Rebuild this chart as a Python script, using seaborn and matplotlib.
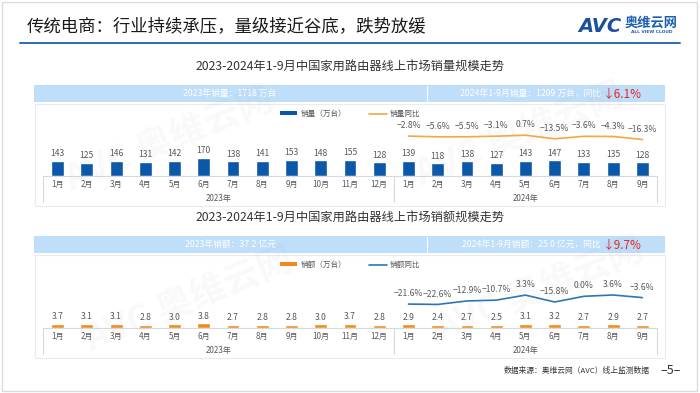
import numpy as np
import pandas as pd
import matplotlib
matplotlib.use('Agg')
import matplotlib.pyplot as plt
from matplotlib.patches import Rectangle, Patch
from matplotlib.lines import Line2D
import seaborn as sns

sns.set_style('white')
plt.rcParams['font.family'] = ['Noto Sans CJK SC', 'DejaVu Sans']
plt.rcParams['axes.unicode_minus'] = True

# ---- data ----
months_2023 = ['1月', '2月', '3月', '4月', '5月', '6月', '7月', '8月', '9月', '10月', '11月', '12月']
months_2024 = ['1月', '2月', '3月', '4月', '5月', '6月', '7月', '8月', '9月']
years = ['2023年', '2024年']

volume_2023 = [143, 125, 146, 131, 142, 170, 138, 141, 153, 148, 155, 128]
volume_2024 = [139, 118, 138, 127, 143, 147, 133, 135, 128]
volume_yoy = [-2.8, -5.6, -5.5, -3.1, 0.7, -13.5, -3.6, -4.3, -16.3]

sales_2023 = [3.7, 3.1, 3.1, 2.8, 3.0, 3.8, 2.7, 2.8, 2.8, 3.0, 3.7, 2.8]
sales_2024 = [2.9, 2.4, 2.7, 2.5, 3.1, 3.2, 2.7, 2.9, 2.7]
sales_yoy = [-21.6, -22.6, -12.9, -10.7, 3.3, -15.8, 0.0, 3.6, -3.6]

W, H = 700, 393
GREY_TXT = '#595959'
AXIS_GREY = '#d9d9d9'
BANNER = '#bedefa'


def fx(px):
    return px / W


def fy(py):
    return 1 - py / H


def draw_panel(fig, title, title_y, banner_left, banner_right, banner_pct, banner_y,
               vals_2023, vals_2024, yoy, bar_color, line_color, bar_label, line_label,
               legend_y, base_y, ax_h, bar_ylim, line_ylim, bar_fmt):
    # chart title
    fig.text(fx(350), fy(title_y), title, ha='center', va='center', fontsize=8.8, color='#333333')

    # banner
    fig.patches.append(Rectangle((fx(34), fy(banner_y + 17)), fx(631), 17 / H,
                                 transform=fig.transFigure, facecolor=BANNER, edgecolor='none', zorder=-2))
    fig.add_artist(Line2D([fx(427), fx(427)], [fy(banner_y + 1), fy(banner_y + 16)],
                          transform=fig.transFigure, color='white', lw=0.8, zorder=-1))
    fig.text(fx(230), fy(banner_y + 8.5), banner_left, ha='center', va='center', fontsize=6.3, color='white')
    fig.text(fx(601), fy(banner_y + 8.5), banner_right, ha='right', va='center', fontsize=6.3, color='white')
    fig.text(fx(603), fy(banner_y + 8.5), banner_pct, ha='left', va='center', fontsize=8.5, color='#e8231f')

    # white panel
    fig.patches.append(Rectangle((fx(35), fy(base_y + 30)), fx(630), (base_y + 30 - banner_y - 19) / H,
                                 transform=fig.transFigure, facecolor='white', edgecolor='#ebebeb',
                                 lw=0.8, zorder=-2))

    n23 = len(vals_2023)
    df = pd.DataFrame({
        'idx': np.arange(n23 + len(vals_2024)),
        'value': vals_2023 + vals_2024,
    })
    df_yoy = pd.DataFrame({'idx': np.arange(n23, n23 + len(yoy)), 'yoy': yoy})

    ax = fig.add_axes([fx(43), fy(base_y), fx(614), ax_h / H])
    ax.patch.set_alpha(0)
    sns.barplot(data=df, x='idx', y='value', color=bar_color, width=0.44, saturation=1, ax=ax)
    ax.bar_label(ax.containers[0], fmt=bar_fmt, padding=2, fontsize=6.2, color=GREY_TXT)
    ax.set_ylim(*bar_ylim)
    ax.set_xlim(-0.5, len(df) - 0.5)
    ax.set_xticks(df['idx'], labels=months_2023 + months_2024)
    ax.tick_params(axis='x', length=0, pad=3, labelsize=5.8, labelcolor=GREY_TXT)
    ax.set_yticks([])
    ax.set_xlabel('')
    ax.set_ylabel('')
    for s in ['top', 'left', 'right']:
        ax.spines[s].set_visible(False)
    ax.spines['bottom'].set_color(AXIS_GREY)
    ax.spines['bottom'].set_linewidth(0.8)

    # year group separators and labels
    tr = ax.get_xaxis_transform()
    drop = 26 / ax_h
    for xb in [-0.5, n23 - 0.5, len(df) - 0.5]:
        ax.plot([xb, xb], [0, -drop], transform=tr, color=AXIS_GREY, lw=0.8, clip_on=False)
    ax.text((n23 - 1) / 2, -22 / ax_h, years[0], transform=tr, ha='center', va='center',
            fontsize=5.8, color=GREY_TXT)
    ax.text(n23 + (len(vals_2024) - 1) / 2, -22 / ax_h, years[1], transform=tr, ha='center',
            va='center', fontsize=5.8, color=GREY_TXT)

    # yoy line on twin axis
    ax2 = ax.twinx()
    ax2.patch.set_alpha(0)
    sns.lineplot(data=df_yoy, x='idx', y='yoy', color=line_color, lw=1.2, ax=ax2)
    ax2.set_ylim(*line_ylim)
    ax2.set_xlim(-0.5, len(df) - 0.5)
    ax2.set_yticks([])
    ax2.set_xlabel('')
    ax2.set_ylabel('')
    for s in ax2.spines.values():
        s.set_visible(False)
    for xi, v in zip(df_yoy['idx'], df_yoy['yoy']):
        ax2.annotate(f'{v:.1f}%'.replace('-', '\u2212'), (xi, v), xytext=(0, 7.5),
                     textcoords='offset points', ha='center', va='center', fontsize=6.2, color=GREY_TXT)

    # legend
    handles = [Patch(facecolor=bar_color, edgecolor='none'),
               Line2D([0], [0], color=line_color, lw=1.2)]
    fig.legend(handles, [bar_label, line_label], loc='center', bbox_to_anchor=(fx(350), fy(legend_y)),
               ncol=2, frameon=False, fontsize=5.5, handlelength=2.3, handleheight=0.5,
               columnspacing=3.0, handletextpad=0.4, labelcolor=GREY_TXT)
    return ax


fig = plt.figure(figsize=(W / 100, H / 100), dpi=100)
fig.patch.set_facecolor('white')

# slide frame
fig.patches.append(Rectangle((fx(2), fy(391)), fx(695), 389 / H, transform=fig.transFigure,
                             facecolor='none', edgecolor='#dcdcdc', lw=1.0, zorder=-3))

# header
fig.text(fx(27), fy(27), '传统电商：行业持续承压，量级接近谷底，跌势放缓', ha='left', va='center',
         fontsize=12.5, color='#1a1a1a')
fig.add_artist(Line2D([fx(20), fx(680)], [fy(43), fy(43)], transform=fig.transFigure,
                      color='#2a6db3', lw=1.4))
fig.text(fx(578), fy(27), 'AVC', ha='left', va='center', fontsize=14, fontweight='heavy',
         style='italic', color='#1c4f9c', family=['DejaVu Sans'])
fig.text(fx(625), fy(23), '奥维云网', ha='left', va='center', fontsize=9.5, fontweight='bold',
         color='#1c5fb0')
fig.text(fx(652), fy(32), 'ALL VIEW CLOUD', ha='center', va='center', fontsize=3.2,
         fontweight='bold', color='#1c5fb0', family=['DejaVu Sans'])

draw_panel(fig, '2023-2024年1-9月中国家用路由器线上市场销量规模走势', 67,
           '2023年销量：1718 万台', '2024年1-9月销量：1209 万台，同比', '↓6.1%', 85,
           volume_2023, volume_2024, volume_yoy, '#0b57a8', '#f5a742',
           '销量（万台）', '销量同比', 114, 176, 66, (0, 623), (-160, 100), '%d')

draw_panel(fig, '2023-2024年1-9月中国家用路由器线上市场销额规模走势', 218,
           '2023年销额：37.2 亿元', '2024年1-9月销额：25.0 亿元，同比', '↓9.7%', 236,
           sales_2023, sales_2024, sales_yoy, '#f08c1a', '#2e75b6',
           '销额（万台）', '销额同比', 265, 328, 58, (0, 48), (-88, 73), '%.1f')

# watermarks
for (wx, wy) in [(170, 140), (520, 135), (190, 300), (540, 290)]:
    fig.text(fx(wx), fy(wy), 'AVC 奥维云网', ha='center', va='center', fontsize=26,
             fontweight='bold', rotation=22, color='#9a9a9a', alpha=0.06, zorder=10)

# footer
fig.text(fx(650), fy(371), '数据来源：奥维云网（AVC）线上监测数据', ha='right', va='center',
         fontsize=5.6, color='#333333')
fig.text(fx(671), fy(370), '\u20135\u2013', ha='center', va='center', fontsize=9, color='#333333')

fig.savefig('out.png', dpi=100)
